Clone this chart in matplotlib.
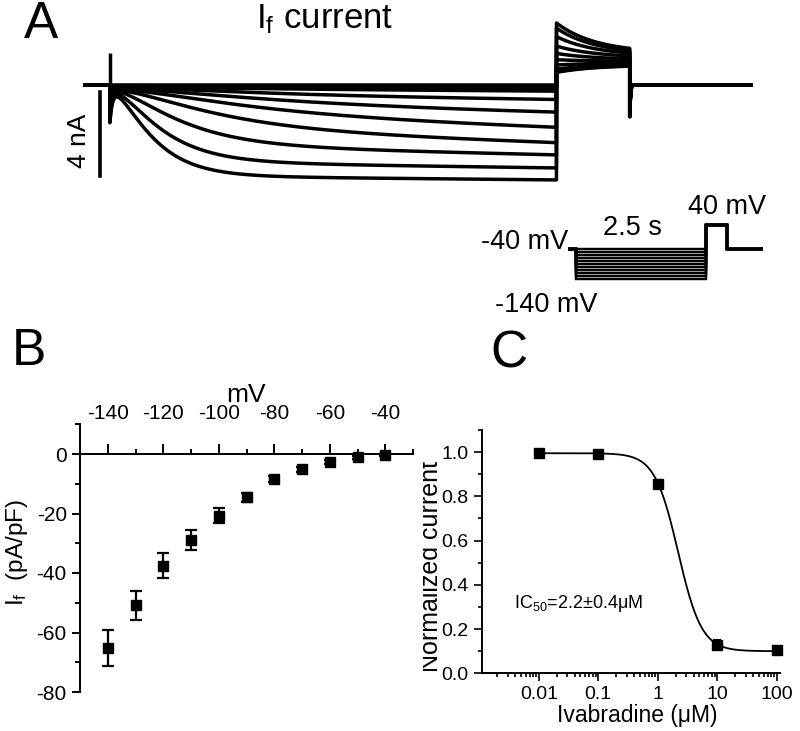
import numpy as np
import matplotlib.pyplot as plt
from matplotlib.ticker import MultipleLocator, FixedLocator, LogLocator, NullFormatter, FormatStrFormatter
from matplotlib.transforms import Bbox, TransformedBbox

plt.rcParams['font.family'] = ['Liberation Sans', 'DejaVu Sans']
plt.rcParams['mathtext.fontset'] = 'custom'
plt.rcParams['mathtext.rm'] = 'Liberation Sans'
plt.rcParams['mathtext.it'] = 'Liberation Sans:italic'
plt.rcParams['axes.unicode_minus'] = False

W, H = 800, 731

# ---- A: If traces (one per test potential), parameters
step_mv = [-40, -50, -60, -70, -80, -90, -100, -110, -120, -130, -140]
inst_na = [0.0, -0.03, -0.06, -0.09, -0.12, -0.15, -0.18, -0.21, -0.24, -0.27, -0.30]
fast_na = [0.0, -0.02, -0.05, -0.085, -0.34, -0.68, -1.12, -1.80, -2.59, -3.38, -4.02]
tau_s = [0.7, 0.7, 0.7, 0.7, 0.7, 0.7, 0.6, 0.45, 0.3, 0.22, 0.18]
drift_na_s = [0.0, -0.02, -0.03, -0.05, -0.1, -0.2, -0.3, -0.3, -0.2, -0.12, -0.08]
cap_na = [0.0, -0.15, -0.3, -0.45, -0.6, -0.75, -0.9, -1.05, -1.2, -1.35, -1.5]
tail_peak_na = [0.6, 0.62, 0.67, 0.75, 0.95, 1.2, 1.5, 1.85, 2.3, 2.7, 2.95]
tail_end_na = [0.95, 0.96, 0.98, 1.0, 1.05, 1.12, 1.2, 1.3, 1.38, 1.45, 1.52]
spike_na = 1.5

# protocol
hold_mv = -40
depol_mv = 40
pre_s, step_s, depol_s, post_s = 0.15, 2.5, 0.41, 0.69

# ---- B: I-V
b_mv = [-140, -130, -120, -110, -100, -90, -80, -70, -60, -50, -40]
b_if = [-65.2, -50.8, -37.5, -29.0, -20.8, -14.6, -8.5, -5.2, -2.6, -1.1, -0.3]
b_err = [6.0, 4.9, 4.1, 3.4, 2.5, 1.5, 1.0, 0.8, 0.7, 0.5, 0.3]

# ---- C: dose response
c_conc = [0.01, 0.1, 1, 10, 100]
c_labels = ['0.01', '0.1', '1', '10', '100']
c_norm = [0.995, 0.99, 0.858, 0.13, 0.104]
c_err = [0.01, 0.01, 0.015, 0.02, 0.01]
fit_top, fit_bottom, ic50, hill = 0.995, 0.10, 2.2, 2.2


fig = plt.figure(figsize=(W / 100, H / 100), dpi=100)


def px_axes(x0, y0, x1, y1):
    return fig.add_axes([x0 / W, 1 - y1 / H, (x1 - x0) / W, (y1 - y0) / H])


def px_text(x, y, s, **kw):
    return fig.text(x / W, 1 - y / H, s, **kw)


t_end = step_s + depol_s + post_s

# panel A traces
axA = px_axes(83, 15, 753, 190)
axA.set_xlim(-pre_s, t_end)
axA.set_ylim(-5.0, 3.33)
axA.axis('off')

t_pre = np.linspace(-pre_s, 0, 30)
t_hyp = np.linspace(0, step_s, 800)
t_dep = np.linspace(0, depol_s, 200)
t_post = np.linspace(0, post_s, 300)
for k in range(len(step_mv)):
    act = (1 - np.exp(-t_hyp / tau_s[k])) ** 2
    i_hyp = (inst_na[k] + fast_na[k] * act + drift_na_s[k] * t_hyp
             + cap_na[k] * np.exp(-t_hyp / 0.015))
    i_dep = tail_end_na[k] + (tail_peak_na[k] - tail_end_na[k]) * np.exp(-t_dep / 0.22)
    i_post = -spike_na * np.exp(-t_post / 0.004)
    t = np.concatenate([t_pre, t_hyp, step_s + t_dep, step_s + depol_s + t_post])
    cur = np.concatenate([np.zeros_like(t_pre), i_hyp, i_dep, i_post])
    axA.plot(t, cur, color='k', lw=2.5)
axA.vlines(0, -spike_na, spike_na, color='k', lw=2.5)

# scale bar 4 nA
axA.plot([-0.056, -0.056], [-0.33, -4.33], color='k', lw=2.6, clip_on=False)
axA.text(-0.17, -2.65, '4 nA', rotation=90, ha='center', va='center', fontsize=19, clip_on=False)

px_text(24, 38, 'A', fontsize=37)
px_text(325, 28, r'I$_\mathrm{f}$ current', fontsize=25, ha='center', va='baseline')

# voltage protocol inset
axP = px_axes(568, 215, 763, 290)
axP.set_xlim(-pre_s, t_end)
axP.set_ylim(-176.7, 73.3)
axP.axis('off')
for v in step_mv:
    tp = [-pre_s, 0, 0, step_s, step_s, step_s + depol_s, step_s + depol_s, t_end]
    vp = [hold_mv, hold_mv, v, v, depol_mv, depol_mv, hold_mv, hold_mv]
    axP.plot(tp, vp, color='k', lw=1.75, solid_joinstyle='miter')

px_text(568, 242, '-40 mV', fontsize=19.5, ha='right', va='center')
px_text(632, 228, '2.5 s', fontsize=19.5, ha='center', va='center')
px_text(727, 207, '40 mV', fontsize=19.5, ha='center', va='center')
px_text(546, 305, '-140 mV', fontsize=19.5, ha='center', va='center')

# panel B
axB = px_axes(80, 424.25, 413, 692)
axB.errorbar(b_mv, b_if, yerr=b_err, fmt='s', color='k', ms=7, capsize=4.3,
             elinewidth=1.6, capthick=1.6, clip_on=False)
axB.set_xlim(-150, -30)
axB.set_ylim(-80, 10)
axB.spines['top'].set_visible(False)
axB.spines['right'].set_visible(False)
axB.spines['bottom'].set_position(('data', 0))
for s in ['left', 'bottom']:
    axB.spines[s].set_linewidth(1.4)
axB.xaxis.set_major_locator(MultipleLocator(20))
axB.xaxis.set_minor_locator(MultipleLocator(10))
axB.yaxis.set_major_locator(MultipleLocator(20))
axB.yaxis.set_minor_locator(MultipleLocator(10))
axB.tick_params(axis='x', which='both', direction='in', labelbottom=False, width=1.4)
axB.tick_params(axis='x', which='major', length=7)
axB.tick_params(axis='x', which='minor', length=3.5)
axB.tick_params(axis='y', which='both', direction='out', labelsize=15, width=1.4)
axB.tick_params(axis='y', which='major', length=6)
axB.tick_params(axis='y', which='minor', length=3.5)
axB.set_ylabel(r'I$_\mathrm{f}$  (pA/pF)', fontsize=17.5)
axB.yaxis.set_label_coords(-0.15, 0.52)

sec = axB.secondary_xaxis('top')
sec.set_xticks([-140, -120, -100, -80, -60, -40])
sec.tick_params(which='both', length=0, labelsize=15, pad=1)
sec.spines['top'].set_visible(False)
sec.set_xlabel('mV', fontsize=19, labelpad=1)

px_text(12, 365, 'B', fontsize=37)

# panel C
axC = px_axes(481.7, 430, 780, 673.3)
xs = np.logspace(-2, 2, 400)
ys = fit_bottom + (fit_top - fit_bottom) / (1 + (xs / ic50) ** hill)
axC.plot(xs, ys, color='k', lw=1.3)
axC.errorbar(c_conc, c_norm, yerr=c_err, fmt='s', color='k', ms=6.5, capsize=3,
             elinewidth=1.5, capthick=1.5, clip_on=False)
axC.set_xscale('log')
axC.set_xlim(1.1e-3, 113)
axC.set_ylim(0, 1.1)
axC.spines['top'].set_visible(False)
axC.spines['right'].set_visible(False)
for s in ['left', 'bottom']:
    axC.spines[s].set_linewidth(1.4)
axC.xaxis.set_major_locator(FixedLocator(c_conc))
axC.set_xticklabels(c_labels)
axC.xaxis.set_minor_locator(LogLocator(base=10, subs=np.arange(2, 10)))
axC.xaxis.set_minor_formatter(NullFormatter())
axC.yaxis.set_major_locator(MultipleLocator(0.2))
axC.yaxis.set_minor_locator(MultipleLocator(0.1))
axC.yaxis.set_major_formatter(FormatStrFormatter('%.1f'))
axC.tick_params(which='both', direction='out', labelsize=14, width=1.2)
axC.tick_params(which='major', length=6)
axC.tick_params(which='minor', length=3)
axC.tick_params(axis='x', pad=3)
axC.set_xlabel('Ivabradine (μM)', fontsize=16.5)
axC.xaxis.set_label_coords(0.52, -0.128)

px_text(578, 603, r'IC$_{50}$=2.2±0.4μM', fontsize=13, ha='center', va='center')

ylab = px_text(431, 566, 'Normalized current', fontsize=18, rotation=90, ha='center', va='center')
ylab.set_clip_box(TransformedBbox(Bbox.from_extents(423 / W, 0, 1, 1), fig.transFigure))
ylab.set_clip_on(True)

px_text(490, 368, 'C', fontsize=37)

fig.savefig('out.png', dpi=100)
